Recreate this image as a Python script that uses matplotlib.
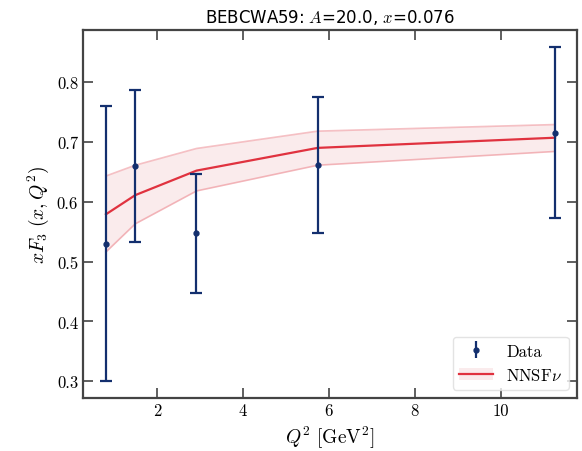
import matplotlib
matplotlib.use("Agg")

import matplotlib.pyplot as plt
from matplotlib.patches import Patch
from matplotlib.lines import Line2D

plt.rcParams["mathtext.fontset"] = "cm"
plt.rcParams["font.family"] = ["serif"]
plt.rcParams["font.serif"] = ["cmr10", "DejaVu Serif"]
plt.rcParams["axes.formatter.use_mathtext"] = True

# data points
q2 = [0.814, 1.495, 2.92, 5.74, 11.26]
f3 = [0.530, 0.660, 0.547, 0.661, 0.715]
err = [0.230, 0.127, 0.100, 0.114, 0.143]

# NNSFnu prediction
pred = [0.579, 0.611, 0.652, 0.690, 0.707]
pred_lo = [0.516, 0.563, 0.618, 0.661, 0.684]
pred_hi = [0.643, 0.661, 0.689, 0.718, 0.729]

data_col = "#132f6e"
line_col = "#e0323f"
band_col = "#f3c7cb"

fig = plt.figure(figsize=(5.82, 4.52), dpi=100)
ax = fig.add_axes([0.1426, 0.1173, 0.8488, 0.8141])

ax.fill_between(q2, pred_lo, pred_hi, color=band_col, alpha=0.35, lw=0)
ax.plot(q2, pred_lo, color=line_col, alpha=0.3, lw=1.2)
ax.plot(q2, pred_hi, color=line_col, alpha=0.3, lw=1.2)
ax.plot(q2, pred, color=line_col, lw=1.6)

ax.errorbar(q2, f3, yerr=err, fmt="o", ms=3.5, color=data_col,
            ecolor=data_col, elinewidth=1.6, capsize=4.5, capthick=1.6)

ax.set_xlim(0.28, 11.77)
ax.set_ylim(0.272, 0.887)
ax.set_xticks([2, 4, 6, 8, 10])
ax.set_yticks([0.3, 0.4, 0.5, 0.6, 0.7, 0.8])
ax.set_xticklabels(["2", "4", "6", "8", "10"])
ax.set_yticklabels(["0.3", "0.4", "0.5", "0.6", "0.7", "0.8"])
ax.tick_params(direction="in", top=True, right=True, length=7, width=1.2,
               labelsize=12, color="#444444")
for s in ax.spines.values():
    s.set_linewidth(1.6)
    s.set_color("#444444")

ax.set_xlabel(r"$Q^2\ [\mathrm{GeV}^2]$", fontsize=14)
ax.set_ylabel(r"$xF_3\ (x, Q^2)$", fontsize=14)
ax.set_title(r"BEBCWA59: $A$=20.0, $x$=0.076", fontsize=12,
             family=["DejaVu Sans"])

h_data = ax.errorbar([], [], yerr=[], fmt="o", ms=3.5, color=data_col,
                     elinewidth=1.6, capsize=4.5, capthick=1.6)
h_pred = (Patch(color=band_col, alpha=0.35, lw=0),
          Line2D([], [], color=line_col, lw=1.6))
leg = ax.legend([h_data, h_pred], ["Data", r"NNSF$\nu$"], loc="lower right",
                fontsize=12, framealpha=0.8, edgecolor="#dddddd")

fig.savefig("out.png", dpi=100)
